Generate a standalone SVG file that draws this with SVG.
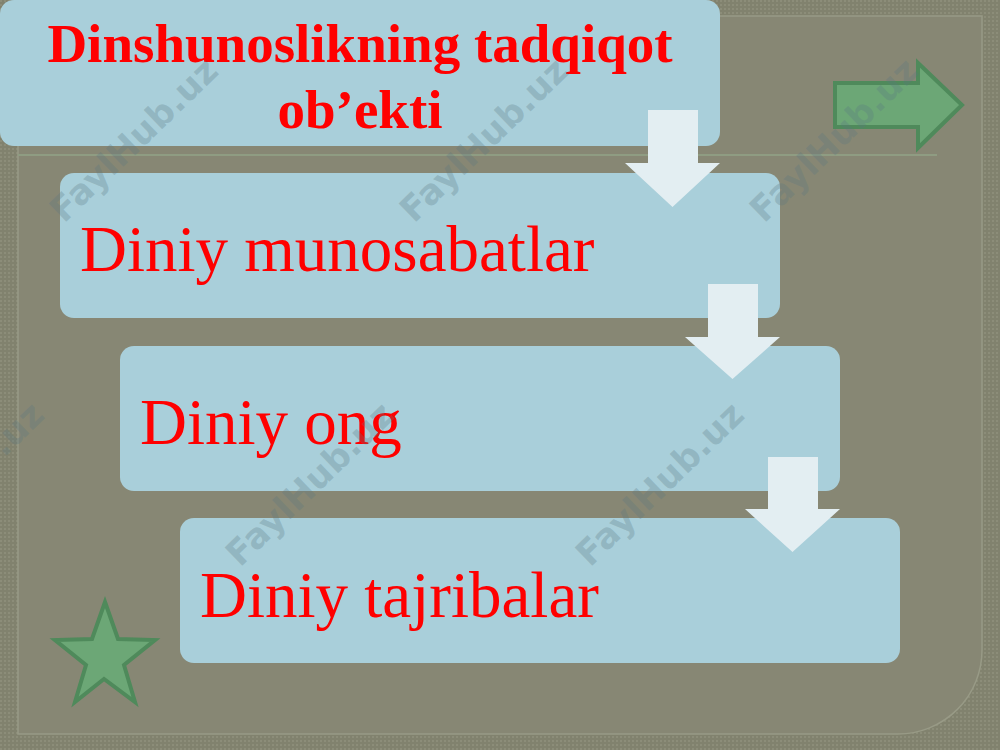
<svg xmlns="http://www.w3.org/2000/svg" width="1000" height="750" viewBox="0 0 1000 750">
  <defs>
    <pattern id="tex" width="4" height="4" patternUnits="userSpaceOnUse">
      <rect width="4" height="4" fill="#81826e"/>
      <rect x="0" y="0" width="2" height="2" fill="#8c8d79"/>
    </pattern>
    <style>
      .box { fill: #a9cfda; }
      .darrow { fill: #e3eef2; }
      .title { font-family: "Liberation Serif", "Times New Roman", serif; font-weight: bold; font-size: 55px; fill: #ff0000; text-anchor: middle; }
      .item { font-family: "Liberation Serif", "Times New Roman", serif; font-size: 65px; fill: #ff0000; }
      .green { fill: #6ca776; stroke: #4f8a5b; stroke-width: 4; stroke-linejoin: miter; }
      .wm { font-family: "DejaVu Sans", Verdana, sans-serif; font-weight: bold; font-size: 35px; fill: #5a7882; fill-opacity: 0.28; }
    </style>
  </defs>

  <!-- background -->
  <rect width="1000" height="750" fill="url(#tex)"/>
  <path d="M18 16 H982 V650 A84 84 0 0 1 898 734 H18 Z" fill="#878774" stroke="#989a86" stroke-width="1.5"/>
  <line x1="18" y1="155" x2="937" y2="155" stroke="#8f9c82" stroke-width="2"/>

  <!-- nodes -->
  <g id="node-title">
    <rect class="box" x="0" y="0" width="720" height="146" rx="14"/>
    <text class="title" x="360" y="62">Dinshunoslikning tadqiqot</text>
    <text class="title" x="360" y="128">ob’ekti</text>
  </g>
  <g id="node-munosabatlar">
    <rect class="box" x="60" y="173" width="720" height="145" rx="14"/>
    <text class="item" x="80" y="271">Diniy munosabatlar</text>
  </g>
  <g id="node-ong">
    <rect class="box" x="120" y="346" width="720" height="145" rx="14"/>
    <text class="item" x="140" y="444">Diniy ong</text>
  </g>
  <g id="node-tajribalar">
    <rect class="box" x="180" y="518" width="720" height="145" rx="14"/>
    <text class="item" x="200" y="617">Diniy tajribalar</text>
  </g>

  <!-- connectors -->
  <g id="connectors">
    <polygon class="darrow" points="648,110 698,110 698,163 720,163 672.5,207 625,163 648,163"/>
    <polygon class="darrow" points="708,284 758,284 758,337 780,337 732.5,379 685,337 708,337"/>
    <polygon class="darrow" points="768,457 818,457 818,509 840,509 792.5,552 745,509 768,509"/>
  </g>

  <!-- decorations -->
  <g id="green-arrow">
    <polygon class="green" points="835,83 918,83 918,63 962,105 918,148 918,127 835,127"/>
  </g>
  <g id="star">
    <polygon class="green" points="105,602 118,639 155,640 124,665 135,702 104,679 75,702 86,665 55,640 92,639"/>
  </g>

  <!-- watermarks -->
  <g id="watermarks">
    <text class="wm" transform="translate(64,224) rotate(-44)">FaylHub.uz</text>
    <text class="wm" transform="translate(414,224) rotate(-44)">FaylHub.uz</text>
    <text class="wm" transform="translate(764,224) rotate(-44)">FaylHub.uz</text>
    <text class="wm" transform="translate(-110,568) rotate(-44)">FaylHub.uz</text>
    <text class="wm" transform="translate(240,568) rotate(-44)">FaylHub.uz</text>
    <text class="wm" transform="translate(590,568) rotate(-44)">FaylHub.uz</text>
  </g>
</svg>
